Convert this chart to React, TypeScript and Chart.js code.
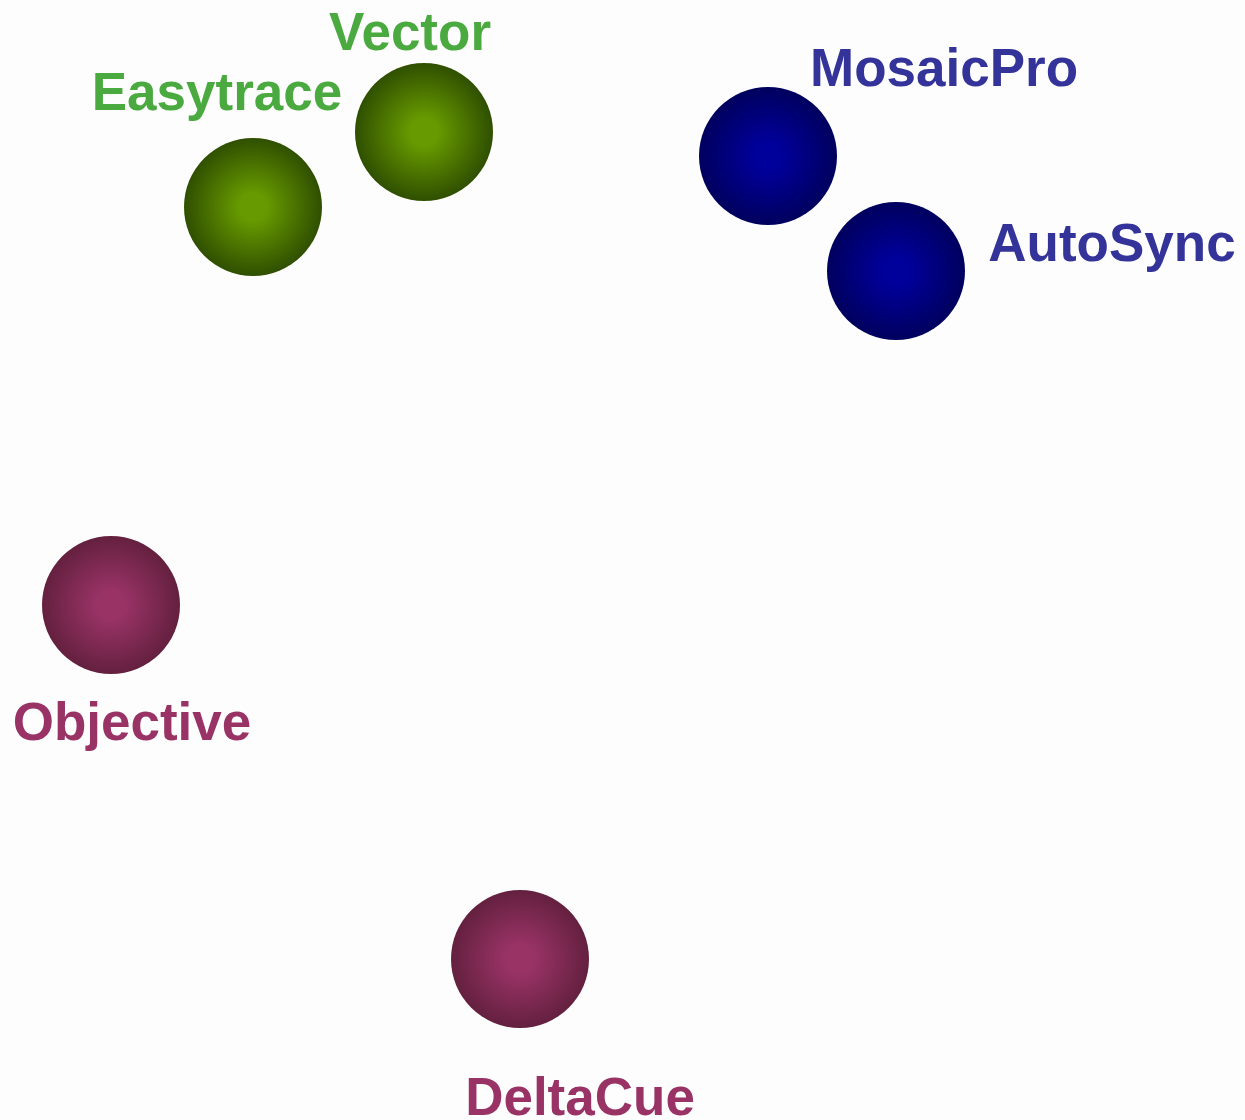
import React, { useEffect, useRef } from "react";
import { Chart, registerables } from "chart.js";

Chart.register(...registerables);

const names = ["Easytrace", "Vector", "MosaicPro", "AutoSync", "Objective", "DeltaCue"];
const xValues = [253, 424, 768, 896, 111, 520];
const yValues = [207, 132, 156, 271, 605, 959];
const sizes = [69, 69, 69, 69, 69, 69];
const groups = ["green", "green", "blue", "blue", "purple", "purple"];

const palette: Record<string, { inner: string; outer: string; text: string }> = {
  green: { inner: "#679a00", outer: "#2f4f00", text: "#4aaa3f" },
  blue: { inner: "#00009a", outer: "#00005e", text: "#333399" },
  purple: { inner: "#993366", outer: "#64203f", text: "#993366" },
};

// label offsets (pixels from bubble centre)
const labelDx = [-36, -14, 176, 216, 21, 60];
const labelDy = [-112, -97, -85, -25, 120, 141];

const labelPlugin = {
  id: "bubbleLabels",
  afterDatasetsDraw(chart: any) {
    const ctx = chart.ctx;
    const meta = chart.getDatasetMeta(0);
    ctx.save();
    ctx.font = "bold 53px 'Liberation Sans', Arial, sans-serif";
    ctx.textAlign = "center";
    ctx.textBaseline = "middle";
    meta.data.forEach((el: any, i: number) => {
      ctx.fillStyle = palette[groups[i]].text;
      ctx.fillText(names[i], el.x + labelDx[i], el.y + labelDy[i]);
    });
    ctx.restore();
  },
};

const bgPlugin = {
  id: "bg",
  beforeDraw(chart: any) {
    const ctx = chart.ctx;
    ctx.save();
    ctx.fillStyle = "#fdfdfd";
    ctx.fillRect(0, 0, chart.width, chart.height);
    ctx.restore();
  },
};

export default function App() {
  const ref = useRef<HTMLCanvasElement>(null);
  useEffect(() => {
    const chart = new Chart(ref.current!, {
      type: "bubble",
      data: {
        datasets: [
          {
            data: names.map((_, i) => ({ x: xValues[i], y: yValues[i], r: sizes[i] })),
            backgroundColor: (c: any) => {
              const chart = c.chart;
              const raw = c.raw;
              if (!raw || !chart.chartArea) return "#888";
              const sx = chart.scales.x.getPixelForValue(raw.x);
              const sy = chart.scales.y.getPixelForValue(raw.y);
              const g = chart.ctx.createRadialGradient(sx, sy, 0, sx, sy, raw.r);
              const p = palette[groups[c.dataIndex]];
              g.addColorStop(0, p.inner);
              g.addColorStop(0.2, p.inner);
              g.addColorStop(1, p.outer);
              return g;
            },
            borderWidth: 0,
            hoverRadius: 0,
          },
        ],
      },
      options: {
        animation: false,
        responsive: false,
        maintainAspectRatio: false,
        layout: { padding: 0, autoPadding: false },
        plugins: { legend: { display: false }, tooltip: { enabled: false } },
        scales: {
          x: { type: "linear", min: 0, max: 1245, display: false },
          y: { type: "linear", min: 0, max: 1120, reverse: true, display: false },
        },
      },
      plugins: [bgPlugin, labelPlugin],
    });
    return () => chart.destroy();
  }, []);
  return (
    <div style={{ position: "fixed", left: 0, top: 0, width: 1245, height: 1120, background: "#fdfdfd" }}>
      <canvas ref={ref} width={1245} height={1120} style={{ display: "block" }} />
    </div>
  );
}
